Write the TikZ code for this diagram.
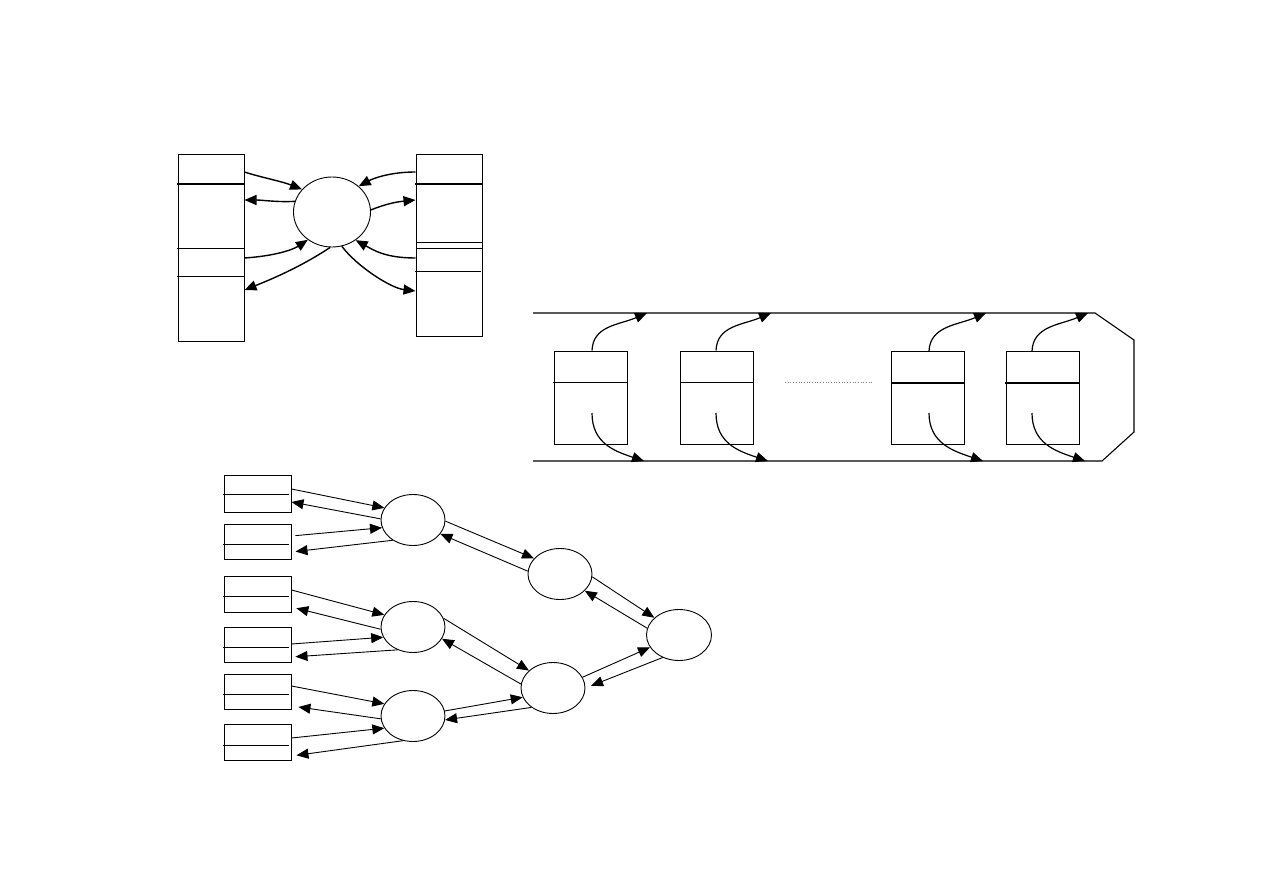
\documentclass[tikz,border=0pt]{standalone}
\usetikzlibrary{arrows.meta,shapes.geometric,calc}
\begin{document}
\begin{tikzpicture}[x=1pt,y=-1pt,
  box/.style={draw,rectangle,inner sep=0pt,line width=1pt},
  oval/.style={draw,ellipse,inner sep=0pt,line width=0.9pt,minimum width=64pt,minimum height=51pt},
  sbox/.style={box,minimum width=67pt,minimum height=36pt},
  rbox/.style={box,minimum width=73pt,minimum height=93pt},
  arr/.style={-{Triangle[length=12pt,width=10pt]},line width=0.9pt},
  carr/.style={-{Triangle[length=12pt,width=10pt]},line width=1.4pt},
  thickline/.style={line width=1.8pt},
  thinline/.style={line width=0.9pt}]
\useasboundingbox (0,0) rectangle (1263,893);

% ---------- top-left diagram ----------
\node[box,minimum width=66pt,minimum height=186pt] (L) at (211,248) {};
\node[box,minimum width=66pt,minimum height=181pt] (R) at (449,245.5) {};
\node[draw,ellipse,inner sep=0pt,line width=0.9pt,minimum width=77pt,minimum height=70pt] (C0) at (332,212) {};
\draw[thickline] (177,184) -- (244,184);
\draw[thinline] (177,248) -- (244,248);
\draw[thinline] (177,276) -- (244,276);
\draw[thickline] (415,184) -- (482,184);
\draw[thinline] (416,242) -- (482,242);
\draw[thinline] (416,248) -- (482,248);
\draw[thinline] (415,271) -- (481,271);

\draw[carr] (L.east|-0,172) .. controls +(15,5) and +(-20,-8) .. (C0.143);
\draw[carr] (C0.164) .. controls +(-18,1) and +(18,0) .. (L.east|-0,200);
\draw[carr] (L.east|-0,258) .. controls +(30,-2) and +(-15,10) .. (C0.229);
\draw[carr] (C0.267) .. controls +(-30,20) and +(25,-10) .. (L.east|-0,290);
\draw[carr] (R.west|-0,172) .. controls +(-25,0) and +(15,-8) .. (C0.44);
\draw[carr] (C0.3) .. controls +(15,-6) and +(-20,2) .. (R.west|-0,200);
\draw[carr] (R.west|-0,258) .. controls +(-30,0) and +(18,10) .. (C0.-50);
\draw[carr] (C0.-74) .. controls +(15,20) and +(-25,-3) .. (R.west|-0,291);

% ---------- ring diagram ----------
\draw[line width=1.1pt] (533,313) -- (1095,313) -- (1134,340) -- (1134,432) -- (1102,461) -- (533,461);
\node[rbox] (B1) at (590.5,397.5) {};
\node[rbox] (B2) at (717,397.5) {};
\node[rbox] (B3) at (928,398) {};
\node[rbox] (B4) at (1042.5,398) {};
\draw[thinline] (553,382) -- (627,382);
\draw[thinline] (680,382) -- (753,382);
\draw[thickline] (891,383) -- (964,383);
\draw[thickline] (1005,383) -- (1079,383);
\draw[dotted,gray,line width=0.7pt] (785,382) -- (873,382);

\coordinate (t1) at (647,313);
\coordinate (t2) at (771,313);
\coordinate (t3) at (986,313);
\coordinate (t4) at (1088,313);
\coordinate (b1) at (644,461);
\coordinate (b2) at (768,461);
\coordinate (b3) at (983,461);
\coordinate (b4) at (1085,461);
\coordinate (s1) at (592,413);
\coordinate (s2) at (716,413);
\coordinate (s3) at (929,413);
\coordinate (s4) at (1032,413);

\foreach \i in {1,2,3,4}{
  \draw[carr,line width=1.2pt] (B\i.north -| s\i) .. controls +(1,-25) and +(-28,12) .. (t\i);
  \draw[carr,line width=1.2pt] (s\i) .. controls +(0,30) and +(-30,-10) .. (b\i);
}

% ---------- tree diagram ----------
\node[sbox,minimum height=37pt] (A) at (257.5,493.5) {};
\node[sbox,minimum height=35pt] (B) at (257.5,541.5) {};
\node[sbox] (C) at (257.5,594) {};
\node[sbox,minimum height=35pt] (D) at (257.5,644.5) {};
\node[sbox,minimum height=35pt] (E) at (257.5,691.5) {};
\node[sbox] (F) at (257.5,742) {};
\draw[thinline] (223,494.5) -- (289,494.5);
\draw[thinline] (223,544) -- (289,544);
\draw[thinline] (223,596) -- (289,596);
\draw[thinline] (223,647) -- (289,647);
\draw[thinline] (223,694) -- (289,694);
\draw[thinline] (223,745) -- (289,745);

\node[oval] (E1) at (413,520) {};
\node[oval] (E2) at (413,627) {};
\node[oval] (E3) at (413,716) {};
\node[oval] (E4) at (560,574) {};
\node[oval] (E5) at (553,688) {};
\node[oval,minimum width=65pt] (E6) at (679,635) {};

\draw[arr] (A.east|-0,489) -- (E1.157);
\draw[arr] (E1.178) -- (A.east|-0,502);
\draw[arr,shorten <=4pt] (B.east|-0,536) -- (E1.194);
\draw[arr,shorten >=4pt] (E1.225) -- (B.east|-0,552);
\draw[arr] (C.east|-0,590) -- (E2.157);
\draw[arr,shorten >=5pt] (E2.184) -- (C.east|-0,607);
\draw[arr] (D.east|-0,644) -- (E2.199);
\draw[arr,shorten >=4pt] (E2.236) -- (D.east|-0,657);
\draw[arr] (E.east|-0,686) -- (E3.157);
\draw[arr,shorten >=7pt] (E3.185) -- (E.east|-0,706);
\draw[arr] (F.east|-0,738) -- (E3.203);
\draw[arr,shorten >=5pt] (E3.248) -- (F.east|-0,756);

\draw[arr] (E1.358) -- (E4.149);
\draw[arr] (E4.175) -- (E1.333);
\draw[arr] (E4.-5) -- (E6.145);
\draw[arr] (E6.168) -- (E4.326);
\draw[arr] (E2.16) -- (E5.144);
\draw[arr] (E5.173) -- (E2.338);
\draw[arr] (E5.20) -- (E6.203);
\draw[arr,shorten >=6pt] (E6.234) -- (E5.0);
\draw[arr] (E3.9) -- (E5.197);
\draw[arr] (E5.222) -- (E3.353);
\end{tikzpicture}
\end{document}
